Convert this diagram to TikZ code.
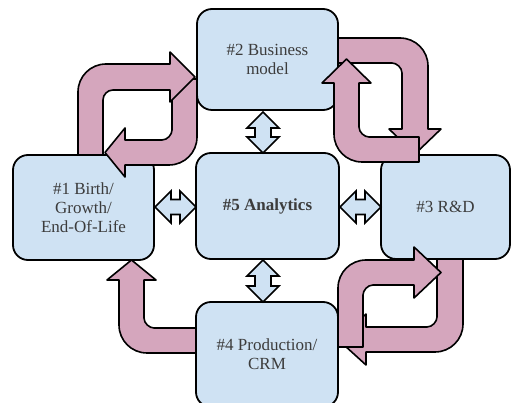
\documentclass[tikz,border=0pt]{standalone}
\usepackage{fontspec}
\setmainfont{Liberation Serif}
\definecolor{boxblue}{HTML}{CFE2F3}
\definecolor{pinkarr}{HTML}{D5A6BD}
\definecolor{txtgray}{HTML}{3C3C3C}
\begin{document}
\begin{tikzpicture}[x=1pt,y=-1pt,
  box/.style={draw=black, line width=1.8pt, fill=boxblue, rounded corners=15pt,
    align=center, text=txtgray, font=\fontsize{17}{19}\selectfont, inner sep=0pt},
  bent/.style={draw=black, line width=1.6pt, fill=pinkarr, line join=round},
  dbl/.style={draw=black, line width=1.6pt, fill=boxblue, line join=miter}]
\useasboundingbox (0,0) rectangle (512,403);
\clip (0,0) rectangle (512,403);
% boxes
\node[box, minimum width=141pt, minimum height=105pt] (b1) at (83.5,207.5) {\#1 Birth/\\Growth/\\End-Of-Life};
\node[box, minimum width=141pt, minimum height=101pt] (b2) at (267.5,59.5) {\#2 Business\\model};
\node[box, minimum width=129pt, minimum height=104pt] (b3) at (445.5,207) {\#3 R\&D};
\node[box, minimum width=142pt, minimum height=105pt] (b4) at (267,354.5) {\#4 Production/\\CRM};
\node[box, minimum width=143pt, minimum height=106pt] (b5) at (267.5,206) {\textbf{\#5 Analytics}};
% top-left pair (B under A)
\path[bent] (172,79) -- (197,79) -- (197,137) .. controls (197,152.5) and (184.5,165) .. (169,165)
  -- (125,165) -- (125,177) -- (105,152.5) -- (125,128) -- (125,140) -- (162,140)
  .. controls (167.5,140) and (172,134.5) .. (172,130) -- cycle;
\path[bent] (78,155) -- (78,92) .. controls (78,76.5) and (90.5,64) .. (106,64) -- (170,64) -- (170,52)
  -- (195,77) -- (170,102) -- (170,90) -- (113,90) .. controls (107.5,90) and (103,94.5) .. (103,100)
  -- (103,155) -- cycle;
% top-right pair (C under D)
\path[bent] (338,38) -- (400,38) .. controls (415.5,38) and (428,50.5) .. (428,66) -- (428,129) -- (441,129)
  -- (415,154) -- (389,129) -- (402,129) -- (402,73) .. controls (402,67.5) and (396.5,63) .. (392,63)
  -- (338,63) -- cycle;
\path[bent] (419,137) -- (419,162) -- (362,162) .. controls (346.5,162) and (334,149.5) .. (334,134)
  -- (334,83) -- (322,83) -- (346.5,59) -- (371,83) -- (359,83) -- (359,127)
  .. controls (359,132.5) and (364.5,137) .. (369,137) -- cycle;
% bottom-right pair (F under E)
\path[bent] (437,259) -- (463,259) -- (463,324) .. controls (463,339.5) and (450.5,352) .. (435,352)
  -- (366,352) -- (366,365) -- (338,339.5) -- (366,314) -- (366,327) -- (427,327)
  .. controls (432.5,327) and (437,321.5) .. (437,317) -- cycle;
\path[bent] (338,347) -- (338,288) .. controls (338,272.5) and (350.5,260) .. (366,260) -- (414,260)
  -- (414,247) -- (441,272.5) -- (414,298) -- (414,285) -- (373,285)
  .. controls (367.5,285) and (363,290.5) .. (363,295) -- (363,347) -- cycle;
% bottom-left
\path[bent] (196,328) -- (196,353) -- (147,353) .. controls (131.5,353) and (119,340.5) .. (119,325)
  -- (119,280) -- (107,280) -- (131.5,260) -- (156,280) -- (144,280) -- (144,318)
  .. controls (144,323.5) and (149.5,328) .. (154,328) -- cycle;
% double arrows
\path[dbl] (263,112) -- (279,128) -- (271,128) -- (271,137) -- (279,137) -- (263,153)
  -- (247,137) -- (255,137) -- (255,128) -- (247,128) -- cycle;
\path[dbl] (263,260) -- (279,276) -- (271,276) -- (271,286) -- (279,286) -- (263,302)
  -- (247,286) -- (255,286) -- (255,276) -- (247,276) -- cycle;
\path[dbl] (155,207) -- (171,191) -- (171,199.5) -- (180,199.5) -- (180,191) -- (196,207)
  -- (180,223) -- (180,214.5) -- (171,214.5) -- (171,223) -- cycle;
\path[dbl] (340,207) -- (356,191) -- (356,199.5) -- (365,199.5) -- (365,191) -- (381,207)
  -- (365,223) -- (365,214.5) -- (356,214.5) -- (356,223) -- cycle;
\end{tikzpicture}
\end{document}
